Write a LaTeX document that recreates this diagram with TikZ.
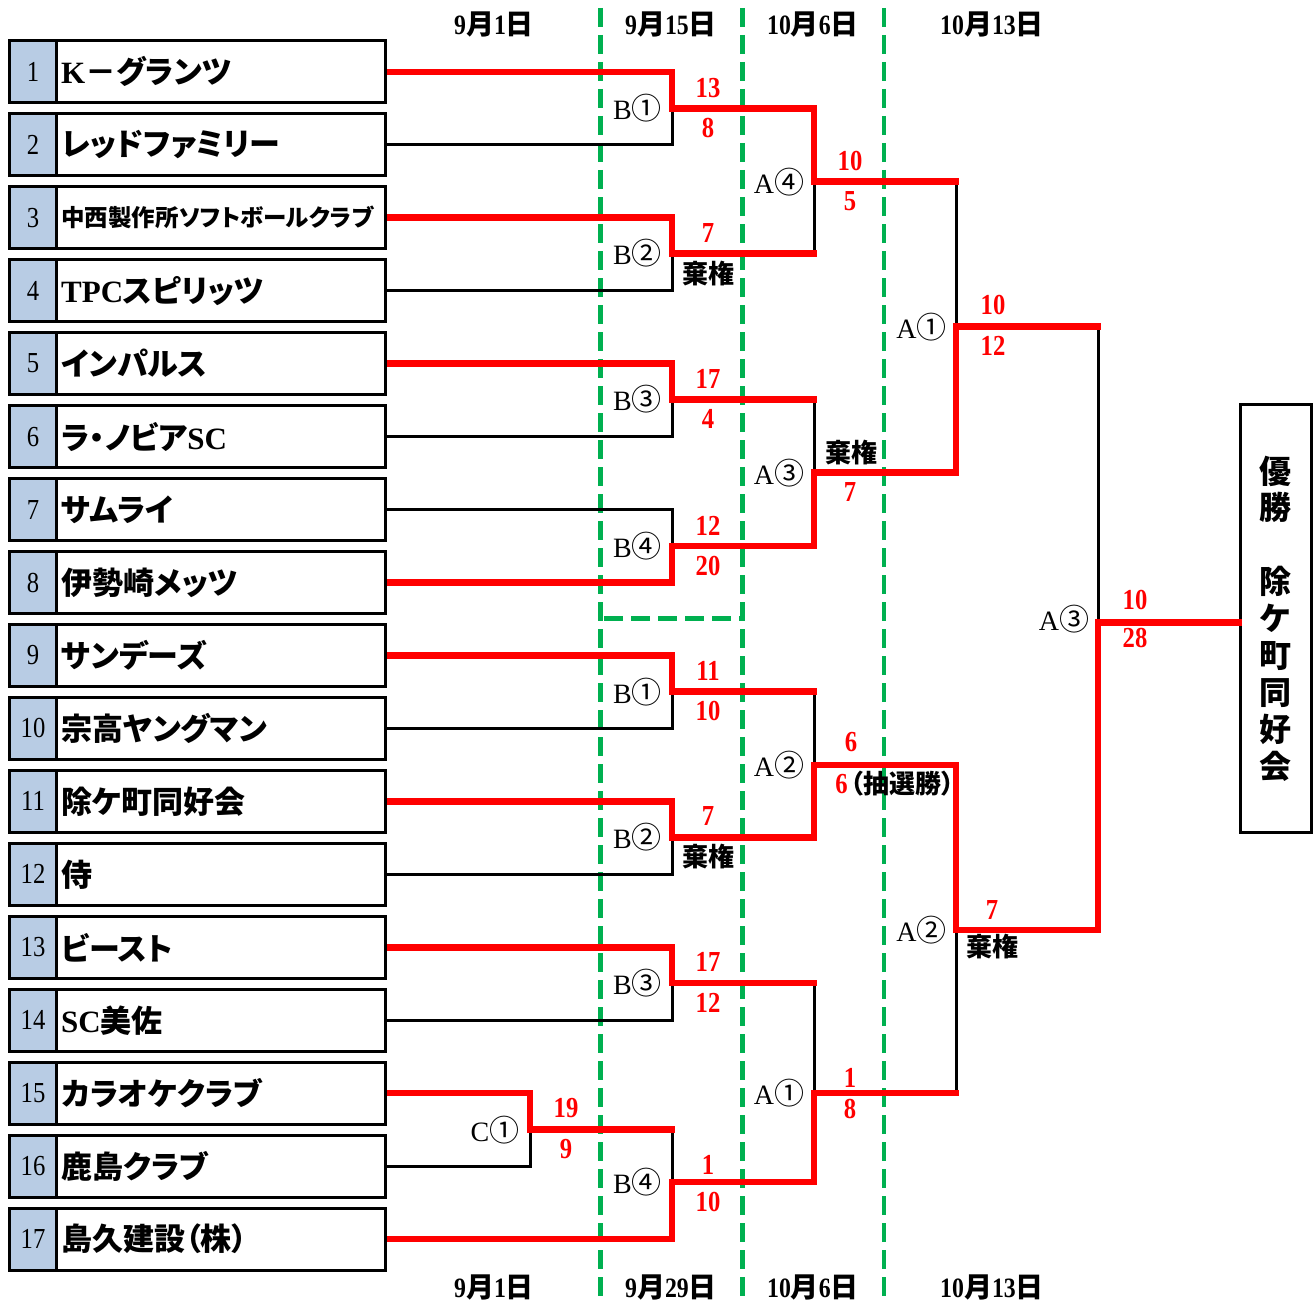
\documentclass[tikz,border=0pt]{standalone}
\usepackage{fontspec}
\setmainfont{Liberation Serif}
\newfontfamily\nar[FakeStretch=0.85]{Liberation Serif}
\newfontfamily\cjk[RawFeature=+palt]{Noto Sans CJK JP}
\newcommand\J[1]{{\cjk #1}}
\newcommand\C[1]{{\cjk\fontsize{30}{30}\selectfont #1}}
\definecolor{grn}{HTML}{00B050}
\definecolor{cellc}{HTML}{B8CCE4}
\begin{document}
\begin{tikzpicture}[x=1pt,y=-1pt,
  teambox/.style={draw, line width=3pt, minimum width=376pt, minimum height=62pt, inner sep=0pt},
  numcell/.style={draw, fill=cellc, line width=3pt, minimum width=47pt, minimum height=62pt, inner sep=0pt, font=\fontsize{29}{30}\selectfont\nar},
  tname/.style={anchor=west, inner sep=0pt, font=\fontsize{31}{33}\selectfont\bfseries\cjk},
  win/.style={red, line width=6.5pt, shorten >=-3.25pt},
  lose/.style={black, line width=3pt},
  gdash/.style={grn, line width=4.5pt, dash pattern=on 19pt off 8pt},
  score/.style={red, inner sep=0pt, font=\fontsize{29}{30}\selectfont\bfseries\nar},
  lbl/.style={inner sep=0pt, font=\fontsize{28}{30}\selectfont},
  kiken/.style={inner sep=0pt, font=\fontsize{26}{28}\selectfont\bfseries\cjk},
  datelbl/.style={inner sep=0pt, font=\fontsize{28}{30}\selectfont\bfseries\nar},
  champbox/.style={draw, line width=3pt, minimum width=70.5pt, minimum height=428pt, inner sep=0pt, align=center, font=\fontsize{32}{36.9}\selectfont\bfseries\cjk}
]
\useasboundingbox (0,0) rectangle (1315,1303);

% green dashed separators
\draw[gdash] (600.5,8) -- (600.5,1303);
\draw[gdash] (742.7,8) -- (742.7,1303);
\draw[gdash] (884,8) -- (884,1303);
\draw[gdash] (604,618.5) -- (740,618.5);

% team boxes
\foreach \i/\nm in {1/{{\rmfamily K}－グランツ}, 2/{レッドファミリー}, 3/{\fontsize{23.5}{25}\selectfont 中西製作所ソフトボールクラブ}, 4/{{\rmfamily TPC}スピリッツ}, 5/{インパルス}, 6/{ラ・ノビア{\rmfamily SC}}, 7/{サムライ}, 8/{伊勢崎メッツ}, 9/{サンデーズ}, 10/{宗高ヤングマン}, 11/{除ケ町同好会}, 12/{侍}, 13/{ビースト}, 14/{{\rmfamily SC}美佐}, 15/{カラオケクラブ}, 16/{鹿島クラブ}, 17/{島久建設（株）}}{
  \pgfmathsetmacro\yy{71.8+72.96*(\i-1)}
  \node[teambox] (t\i) at (197.5,\yy) {};
  \node[numcell] (n\i) at (33,\yy) {\i};
  \node[tname] (m\i) at (61,\yy) {\nm};
}

% champion box
\node[champbox] (champ) at (1275.75,618.5) {優\\勝\\\mbox{}\\除\\ケ\\町\\同\\好\\会};

% junctions
\coordinate (b1) at (672,108.3);
\coordinate (b2) at (672,253.3);
\coordinate (b3) at (672,399.3);
\coordinate (b4) at (672,546);
\coordinate (a4) at (814,181.7);
\coordinate (a3) at (814,472.7);
\coordinate (s1) at (956,326.7);
\coordinate (c1) at (530,1129.6);
\coordinate (bb1) at (672,691.7);
\coordinate (bb2) at (672,837.3);
\coordinate (bb3) at (672,983);
\coordinate (bb4) at (672,1182);
\coordinate (ab2) at (814,765);
\coordinate (ab1) at (814,1093);
\coordinate (s2) at (956,930);
\coordinate (f) at (1098,622.7);

% losing (black) lines
\draw[lose] (t2.east) -| (b1);
\draw[lose] (t4.east) -| (b2);
\draw[lose] (t6.east) -| (b3);
\draw[lose] (t7.east) -| (b4);
\draw[lose] (b2 -| a4) -- (a4);
\draw[lose] (b3 -| a3) -- (a3);
\draw[lose] (s1 |- a4) -- (s1);
\draw[lose] (t10.east) -| (bb1);
\draw[lose] (t12.east) -| (bb2);
\draw[lose] (t14.east) -| (bb3);
\draw[lose] (t16.east) -| (c1);
\draw[lose] (c1 -| bb4) -- (bb4);
\draw[lose] (bb1 -| ab2) -- (ab2);
\draw[lose] (bb3 -| ab1) -- (ab1);
\draw[lose] (s2 |- ab1) -- (s2);
\draw[lose] (f |- s1) -- (f);

% winning (red) lines
\draw[win] (t1.east) -| (b1) -- (b1 -| a4) |- (s1 |- a4);
\draw[win] (t3.east) -| (b2) -- (b2 -| a4);
\draw[win] (t5.east) -| (b3) -- (b3 -| a3);
\draw[win] (t8.east) -| (b4) -- (b4 -| a3) |- (s1 |- a3) |- (f |- s1);
\draw[win] (t9.east) -| (bb1) -- (bb1 -| ab2);
\draw[win] (t11.east) -| (bb2) -- (bb2 -| ab2) |- (s2 |- ab2) |- (f |- s2) |- (champ.west |- f);
\draw[win] (t13.east) -| (bb3) -- (bb3 -| ab1);
\draw[win] (t15.east) -| (c1) -- (c1 -| bb4);
\draw[win] (t17.east) -| (bb4) -- (bb4 -| ab1) |- (s2 |- ab1);

% match labels and scores: top half
\node[lbl] (lB1) at ([xshift=-34.5pt]b1) {B\C{①}};
\node[score] (sB1a) at ([xshift=36pt,yshift=20pt]b1) {13};
\node[score] (sB1b) at ([xshift=36pt,yshift=-20pt]b1) {8};
\node[lbl] (lB2) at ([xshift=-34.5pt]b2) {B\C{②}};
\node[score] (sB2a) at ([xshift=36pt,yshift=20pt]b2) {7};
\node[kiken] (sB2b) at ([xshift=36pt,yshift=-20pt]b2) {棄権};
\node[lbl] (lB3) at ([xshift=-34.5pt]b3) {B\C{③}};
\node[score] (sB3a) at ([xshift=36pt,yshift=20pt]b3) {17};
\node[score] (sB3b) at ([xshift=36pt,yshift=-20pt]b3) {4};
\node[lbl] (lB4) at ([xshift=-34.5pt]b4) {B\C{④}};
\node[score] (sB4a) at ([xshift=36pt,yshift=20pt]b4) {12};
\node[score] (sB4b) at ([xshift=36pt,yshift=-20pt]b4) {20};
\node[lbl] (lA4) at ([xshift=-35pt]a4) {A\C{④}};
\node[score] (sA4a) at ([xshift=36pt,yshift=21pt]a4) {10};
\node[score] (sA4b) at ([xshift=36pt,yshift=-19pt]a4) {5};
\node[lbl] (lA3) at ([xshift=-35pt]a3) {A\C{③}};
\node[kiken] (sA3a) at ([xshift=37pt,yshift=20.5pt]a3) {棄権};
\node[score] (sA3b) at ([xshift=36pt,yshift=-19.5pt]a3) {7};
\node[lbl] (lS1) at ([xshift=-34.5pt]s1) {A\C{①}};
\node[score] (sS1a) at ([xshift=37pt,yshift=22pt]s1) {10};
\node[score] (sS1b) at ([xshift=37pt,yshift=-19pt]s1) {12};
\node[lbl] (lF) at ([xshift=-34pt,yshift=4pt]f) {A\C{③}};
\node[score] (sFa) at ([xshift=37pt,yshift=22.7pt]f) {10};
\node[score] (sFb) at ([xshift=37pt,yshift=-15.3pt]f) {28};

% bottom half
\node[lbl] (lC1) at ([xshift=-35pt]c1) {C\C{①}};
\node[score] (sC1a) at ([xshift=36pt,yshift=22pt]c1) {19};
\node[score] (sC1b) at ([xshift=36pt,yshift=-19.5pt]c1) {9};
\node[lbl] (lBB1) at ([xshift=-34.5pt]bb1) {B\C{①}};
\node[score] (sBB1a) at ([xshift=36pt,yshift=21pt]bb1) {11};
\node[score] (sBB1b) at ([xshift=36pt,yshift=-19pt]bb1) {10};
\node[lbl] (lBB2) at ([xshift=-34.5pt]bb2) {B\C{②}};
\node[score] (sBB2a) at ([xshift=36pt,yshift=21pt]bb2) {7};
\node[kiken] (sBB2b) at ([xshift=36pt,yshift=-19pt]bb2) {棄権};
\node[lbl] (lBB3) at ([xshift=-34.5pt]bb3) {B\C{③}};
\node[score] (sBB3a) at ([xshift=36pt,yshift=21pt]bb3) {17};
\node[score] (sBB3b) at ([xshift=36pt,yshift=-20pt]bb3) {12};
\node[lbl] (lBB4) at ([xshift=-34.5pt]bb4) {B\C{④}};
\node[score] (sBB4a) at ([xshift=36pt,yshift=17pt]bb4) {1};
\node[score] (sBB4b) at ([xshift=36pt,yshift=-20pt]bb4) {10};
\node[lbl] (lAB2) at ([xshift=-35pt]ab2) {A\C{②}};
\node[score] (sAB2a) at ([xshift=37pt,yshift=22.5pt]ab2) {6};
\node[inner sep=0pt, font=\fontsize{26}{28}\selectfont] (sAB2b) at ([xshift=81pt,yshift=-19pt]ab2) {\textcolor{red}{\fontsize{29}{30}\selectfont\bfseries\nar 6}\kern3pt\J{\bfseries（抽選勝）}};
\node[lbl] (lAB1) at ([xshift=-35pt]ab1) {A\C{①}};
\node[score] (sAB1a) at ([xshift=36pt,yshift=15pt]ab1) {1};
\node[score] (sAB1b) at ([xshift=36pt,yshift=-16pt]ab1) {8};
\node[lbl] (lS2) at ([xshift=-34.5pt]s2) {A\C{②}};
\node[score] (sS2a) at ([xshift=36pt,yshift=20.5pt]s2) {7};
\node[kiken] (sS2b) at ([xshift=36pt,yshift=-16.5pt]s2) {棄権};

% dates
\node[datelbl] (d1) at (494,24) {9\J{月}1\J{日}};
\node[datelbl] (d2) at (671,24) {9\J{月}15\J{日}};
\node[datelbl] (d3) at (813,24) {10\J{月}6\J{日}};
\node[datelbl] (d4) at (992,24) {10\J{月}13\J{日}};
\node[datelbl] (e1) at (494,1287) {9\J{月}1\J{日}};
\node[datelbl] (e2) at (671,1287) {9\J{月}29\J{日}};
\node[datelbl] (e3) at (813,1287) {10\J{月}6\J{日}};
\node[datelbl] (e4) at (992,1287) {10\J{月}13\J{日}};
\end{tikzpicture}
\end{document}
